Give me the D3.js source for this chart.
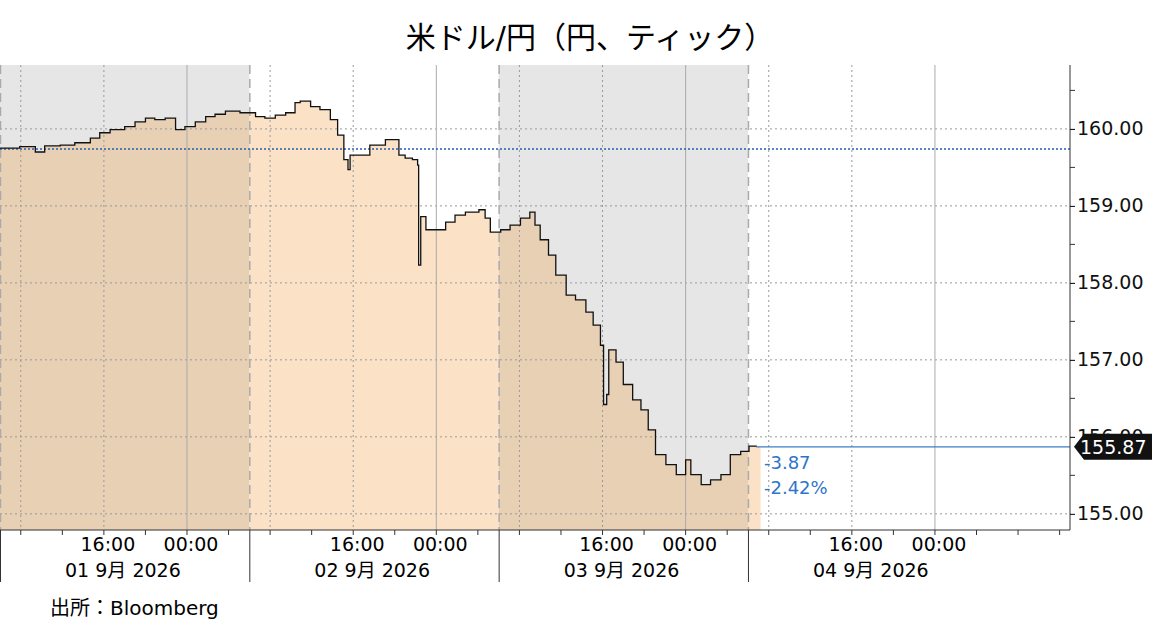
<!DOCTYPE html>
<html><head><meta charset="utf-8">
<script src="https://cdn.jsdelivr.net/npm/d3@7"></script>
<style>body{margin:0;background:#fff}svg{font-family:"DejaVu Sans","Noto Sans CJK JP",sans-serif}</style>
</head><body><svg id="c" width="1152" height="637"></svg>
<script>
const title = "米ドル/円（円、ティック）";
const source = "出所：Bloomberg";
const dayLabels = ["01 9月 2026","02 9月 2026","03 9月 2026","04 9月 2026"];
const yTicks = [155,156,157,158,159,160];
const prevClose = 159.74;
const lastPrice = 155.87;
const change = "-3.87";
const changePct = "-2.42%";
// hours since 01 Sep 06:00
const hours = [0,1.9,3.4,4.3,5.8,7.2,8.7,9.6,10.6,12.0,13.0,14.0,14.9,15.9,16.9,17.8,18.8,19.8,20.7,21.7,23.1,24.6,25.5,26.5,27.5,28.4,28.9,29.9,30.8,31.8,32.5,33.1,33.5,33.7,34.7,35.6,37.1,37.8,38.4,39.0,39.7,40.2,40.3,40.5,41.0,41.9,42.9,43.8,44.8,46.1,46.7,47.2,48.2,49.1,50.1,51.0,51.5,52.0,52.8,53.5,54.5,55.4,56.4,57.1,57.8,58.1,58.4,58.6,59.3,60.0,60.9,61.7,62.4,63.1,64.1,65.1,66.0,66.5,67.5,68.4,69.4,70.3,71.3,72.1,72.8];
const prices = [159.75,159.77,159.70,159.78,159.79,159.82,159.88,159.95,159.99,160.03,160.09,160.14,160.12,160.14,159.99,160.03,160.09,160.16,160.19,160.23,160.21,160.16,160.14,160.18,160.21,160.34,160.36,160.29,160.25,160.12,159.92,159.60,159.47,159.66,159.66,159.79,159.86,159.86,159.66,159.62,159.60,159.53,158.23,158.86,158.69,158.69,158.79,158.88,158.92,158.95,158.84,158.66,158.69,158.75,158.84,158.92,158.75,158.56,158.36,158.10,157.84,157.78,157.62,157.45,157.19,156.42,156.55,157.13,156.97,156.68,156.48,156.35,156.09,155.77,155.64,155.51,155.70,155.51,155.38,155.44,155.51,155.77,155.81,155.88,155.87];

const svg = d3.select("#c");
const L=0, R=1070, T=65, B=530;
const t0 = new Date(2026,8,1,6,0);
const x = d3.scaleTime().domain([t0, d3.timeHour.offset(t0, 103.2)]).range([L,R]);
const y = d3.scaleLinear().domain([154.79,160.83]).range([B,T]);
const data = hours.map((h,i)=>({t:new Date(+t0+h*3600e3), v:prices[i]}));
const days = d3.range(5).map(i=>d3.timeHour.offset(t0,24*i));

[0,2].forEach(i=>svg.append("rect").attr("x",x(days[i])).attr("y",T).attr("width",x(days[i+1])-x(days[i])).attr("height",B-T).attr("fill","#e6e6e6"));

const area = d3.area().x(d=>x(d.t)).y0(B).y1(d=>y(d.v)).curve(d3.curveStepAfter);
const lastT = d3.timeMinute.offset(data[data.length-1].t, 25);
const fillData = data.concat([{t:lastT, v:lastPrice}]);
const defs = svg.append("defs");
[0,1,2,3].forEach(i=>{
  defs.append("clipPath").attr("id","cp"+i).append("rect").attr("x",x(days[i])).attr("y",T).attr("width",x(days[i+1])-x(days[i])).attr("height",B-T);
  svg.append("path").datum(fillData).attr("d",area).attr("clip-path",`url(#cp${i})`).attr("fill", i%2==0?"#e8d0b4":"#fbe2c6");
});

svg.selectAll(".hg").data(yTicks).join("line").attr("x1",L).attr("x2",R).attr("y1",d=>y(d)).attr("y2",d=>y(d)).attr("stroke","#999").attr("stroke-dasharray","2,3");
const vt = d3.timeHour.every(8).range(t0, d3.timeHour.offset(t0,91));
vt.forEach(d=>{
  if(d.getHours()===0) svg.append("line").attr("x1",x(d)).attr("x2",x(d)).attr("y1",T).attr("y2",B).attr("stroke","#aaa");
  else svg.append("line").attr("x1",x(d)).attr("x2",x(d)).attr("y1",T).attr("y2",B).attr("stroke","#999").attr("stroke-dasharray","2,3");
});
days.slice(0,4).forEach(d=>svg.append("line").attr("x1",x(d)+0.5).attr("x2",x(d)+0.5).attr("y1",T).attr("y2",B).attr("stroke","#aaa").attr("stroke-width",1.5).attr("stroke-dasharray","9,5"));

svg.append("line").attr("x1",L).attr("x2",R).attr("y1",y(prevClose)).attr("y2",y(prevClose)).attr("stroke","#2a5db0").attr("stroke-width",1.5).attr("stroke-dasharray","2,2");

const line = d3.line().x(d=>x(d.t)).y(d=>y(d.v)).curve(d3.curveStepAfter);
svg.append("path").datum(data).attr("d",line).attr("fill","none").attr("stroke","#111").attr("stroke-width",1.3);

svg.append("line").attr("x1",x(data[data.length-1].t)).attr("x2",R).attr("y1",y(lastPrice)).attr("y2",y(lastPrice)).attr("stroke","#3b7dc4").attr("stroke-width",1.2);
svg.append("text").attr("x",764).attr("y",y(lastPrice)+22).attr("fill","#2e75c9").attr("font-size",18).text(change);
svg.append("text").attr("x",764).attr("y",y(lastPrice)+47).attr("fill","#2e75c9").attr("font-size",18).text(changePct);

const ya = d3.axisRight(y).tickValues(yTicks).tickFormat(d3.format(".2f")).tickSize(5);
const g = svg.append("g").attr("transform",`translate(${R},0)`).call(ya);
g.select(".domain").attr("d",`M0,${T}V${B}`).attr("stroke","#333");
g.selectAll("text").attr("font-size",19).attr("font-family","DejaVu Sans").attr("fill","#111").attr("x",7);
const minor = d3.range(154.5,161,0.5).filter(v=>v%1!==0 && y(v)>T && y(v)<B);
svg.selectAll(".mn").data(minor).join("line").attr("x1",R).attr("x2",R+5).attr("y1",d=>y(d)).attr("y2",d=>y(d)).attr("stroke","#333");
const ly = y(lastPrice);
svg.append("path").attr("d",`M${R+4},${ly}L${R+14},${ly-13}H1152V${ly+13}H${R+14}Z`).attr("fill","#111");
svg.append("text").attr("x",1080).attr("y",ly+7).attr("fill","#fff").attr("font-size",19).text(lastPrice.toFixed(2));

svg.append("line").attr("x1",L).attr("x2",R).attr("y1",B).attr("y2",B).attr("stroke","#333");
d3.timeHour.every(4).range(t0, x.domain()[1]).forEach(d=>svg.append("line").attr("x1",x(d)).attr("x2",x(d)).attr("y1",B).attr("y2",B+5).attr("stroke","#333"));
days.slice(0,4).forEach((d,i)=>{
  svg.append("line").attr("x1",x(d)+0.5).attr("x2",x(d)+0.5).attr("y1",B).attr("y2",582).attr("stroke","#333");
  const h16 = d3.timeHour.offset(d,10), h0 = d3.timeHour.offset(d,18);
  svg.append("text").attr("x",x(h16)+4).attr("y",551).attr("text-anchor","middle").attr("font-size",19).text("16:00");
  svg.append("text").attr("x",x(h0)+4).attr("y",551).attr("text-anchor","middle").attr("font-size",19).text("00:00");
  svg.append("text").attr("x",x(h16)+19).attr("y",577).attr("text-anchor","middle").attr("font-size",19).text(dayLabels[i]);
});

svg.append("text").attr("x",590).attr("y",48).attr("text-anchor","middle").attr("font-size",30).text(title);
svg.append("text").attr("x",50).attr("y",615).attr("font-size",20).text(source);
</script></body></html>
